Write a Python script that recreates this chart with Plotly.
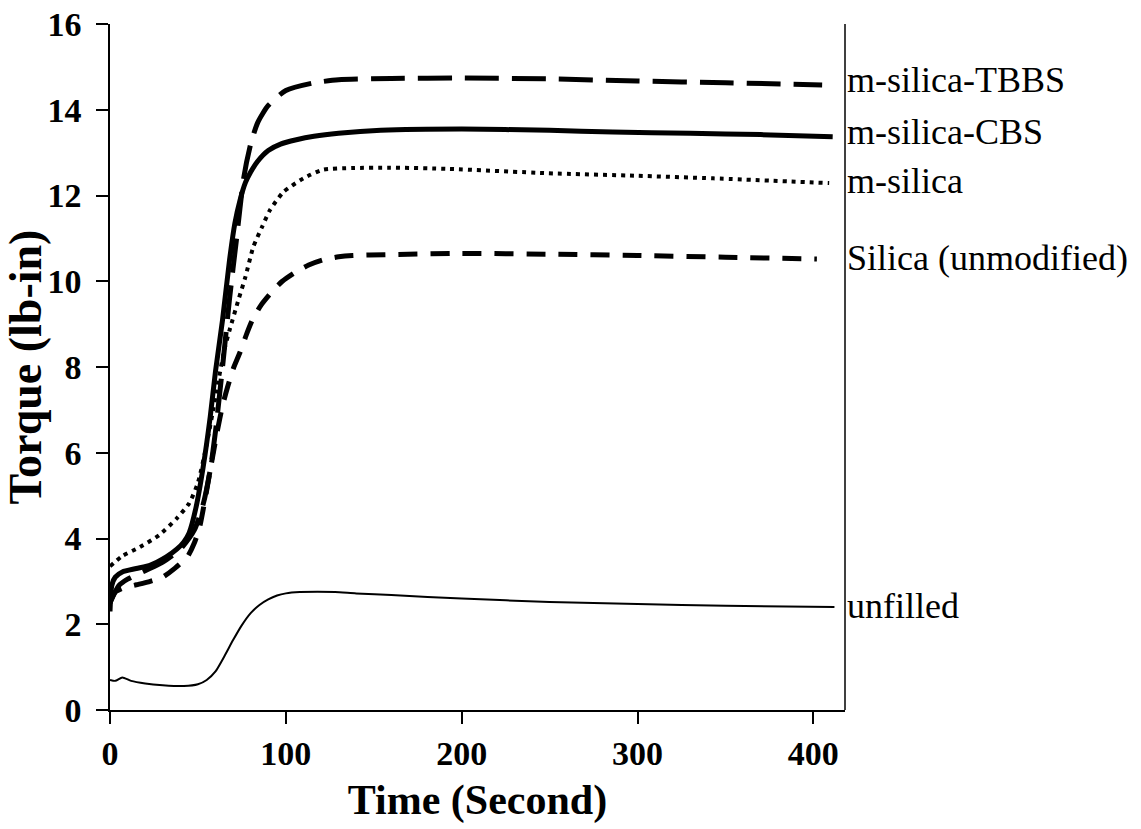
import plotly.graph_objects as go

# ---- data ----
t_unfilled = [0, 3, 7, 12, 20, 30, 42, 50, 55, 60, 65, 70, 75, 80, 85, 90, 95, 100, 108, 118, 128, 140, 160, 200, 250, 300, 350, 412]
y_unfilled = [0.70, 0.68, 0.76, 0.68, 0.62, 0.58, 0.56, 0.60, 0.70, 0.90, 1.25, 1.63, 1.98, 2.26, 2.45, 2.58, 2.67, 2.72, 2.75, 2.76, 2.75, 2.72, 2.68, 2.60, 2.52, 2.47, 2.43, 2.40]

t_cbs = [0, 1, 3, 7, 15, 23, 32, 38, 42, 45, 49, 53, 57, 60, 64, 68, 71, 74, 77, 80, 84, 90, 97, 106, 116, 130, 154, 200, 250, 286, 330, 370, 411]
y_cbs = [2.3, 2.9, 3.1, 3.22, 3.3, 3.38, 3.57, 3.75, 3.92, 4.13, 4.74, 5.67, 6.84, 7.9, 9.1, 10.5, 11.35, 11.9, 12.3, 12.55, 12.8, 13.05, 13.2, 13.3, 13.38, 13.45, 13.52, 13.55, 13.52, 13.48, 13.45, 13.42, 13.37]

t_tbbs = [0, 5, 10, 20, 30, 40, 48, 53, 57, 60, 64, 68, 72, 76, 80, 84, 90, 100, 115, 130, 160, 200, 250, 300, 350, 405]
y_tbbs = [2.5, 2.9, 3.05, 3.25, 3.45, 3.75, 4.2, 4.8, 5.6, 6.5, 8.0, 9.6, 11.0, 12.4, 13.2, 13.7, 14.1, 14.45, 14.62, 14.7, 14.73, 14.74, 14.72, 14.67, 14.63, 14.58]

t_msilica = [0, 7, 17, 28, 38, 45, 50, 55, 60, 65, 68, 73, 77, 81.5, 86.5, 91, 98.6, 110, 121, 138, 159, 193, 249, 300, 343, 409]
y_msilica = [3.35, 3.59, 3.8, 4.08, 4.47, 4.82, 5.3, 6.2, 7.3, 8.4, 8.86, 9.56, 10.1, 10.8, 11.27, 11.66, 12.08, 12.4, 12.6, 12.64, 12.65, 12.62, 12.52, 12.46, 12.4, 12.29]

t_silica = [0, 3, 8, 15, 22, 30, 37, 44, 48, 51, 54, 57, 61, 64, 67, 70, 74, 78, 81, 86, 92, 98, 105, 113, 121, 130, 138, 156, 200, 250, 300, 350, 402]
y_silica = [2.5, 2.75, 2.85, 2.92, 2.99, 3.1, 3.31, 3.57, 3.9, 4.27, 4.9, 5.6, 6.5, 7.1, 7.55, 7.95, 8.35, 8.8, 9.1, 9.45, 9.75, 10.0, 10.2, 10.38, 10.5, 10.57, 10.6, 10.62, 10.65, 10.63, 10.6, 10.56, 10.52]

labels = ["m-silica-TBBS", "m-silica-CBS", "m-silica", "Silica (unmodified)", "unfilled"]
label_y = [14.69, 13.48, 12.34, 10.54, 2.43]

x_ticks = [0, 100, 200, 300, 400]
y_ticks = [0, 2, 4, 6, 8, 10, 12, 14, 16]

fig = go.Figure()
fig.add_trace(go.Scatter(x=t_unfilled, y=y_unfilled, mode="lines", name="unfilled",
                         line=dict(color="black", width=2, shape="spline", smoothing=0.6)))
fig.add_trace(go.Scatter(x=t_silica, y=y_silica, mode="lines", name="Silica (unmodified)",
                         line=dict(color="black", width=5, dash="19px,13px", shape="spline", smoothing=0.6)))
fig.add_trace(go.Scatter(x=t_msilica, y=y_msilica, mode="lines", name="m-silica",
                         line=dict(color="black", width=4, dash="4px,5px", shape="spline", smoothing=0.6)))
fig.add_trace(go.Scatter(x=t_tbbs, y=y_tbbs, mode="lines", name="m-silica-TBBS",
                         line=dict(color="black", width=5, dash="34px,13px", shape="spline", smoothing=0.6)))
fig.add_trace(go.Scatter(x=t_cbs, y=y_cbs, mode="lines", name="m-silica-CBS",
                         line=dict(color="black", width=5, shape="spline", smoothing=0.6)))

for lab, ly in zip(labels, label_y):
    fig.add_annotation(x=1.0, xref="paper", y=ly, yref="y", text=lab, showarrow=False,
                       xanchor="left", yanchor="middle",
                       font=dict(family="Liberation Serif", size=36, color="black"))

fig.add_shape(type="line", xref="paper", yref="paper", x0=1, x1=1, y0=0, y1=1,
              line=dict(color="black", width=1.5))

fig.update_layout(
    width=1141, height=829,
    margin=dict(l=110, r=296, t=24, b=119),
    paper_bgcolor="white", plot_bgcolor="white",
    showlegend=False,
    font=dict(family="Liberation Serif", color="black"),
)
fig.update_xaxes(range=[0, 418], tickvals=x_ticks, showgrid=False, zeroline=False,
                 automargin=False, ticklabeloverflow="allow",
                 showline=True, linecolor="black", linewidth=1.5,
                 ticks="outside", ticklen=12, tickwidth=1.5, tickcolor="black",
                 tickfont=dict(family="Liberation Serif", size=34, color="black", weight="bold"),
                 title=dict(text="<b>Time (Second)</b>", standoff=14,
                            font=dict(family="Liberation Serif", size=42, color="black")))
fig.update_yaxes(range=[0, 16], tickvals=y_ticks, showgrid=False, zeroline=False,
                 automargin=False, ticklabeloverflow="allow",
                 showline=True, linecolor="black", linewidth=1.5,
                 ticks="outside", ticklen=12, tickwidth=1.5, tickcolor="black",
                 ticklabelstandoff=8,
                 tickfont=dict(family="Liberation Serif", size=34, color="black", weight="bold"),
                 title=dict(text="<b>Torque (lb-in)</b>", standoff=0,
                            font=dict(family="Liberation Serif", size=46, color="black")))

# remove the default 8px page margin so the figure fills the window exactly
fig.write_html("out.html",
               config={"displayModeBar": False},
               post_script="document.body.style.margin='0';document.body.style.overflow='hidden';")
